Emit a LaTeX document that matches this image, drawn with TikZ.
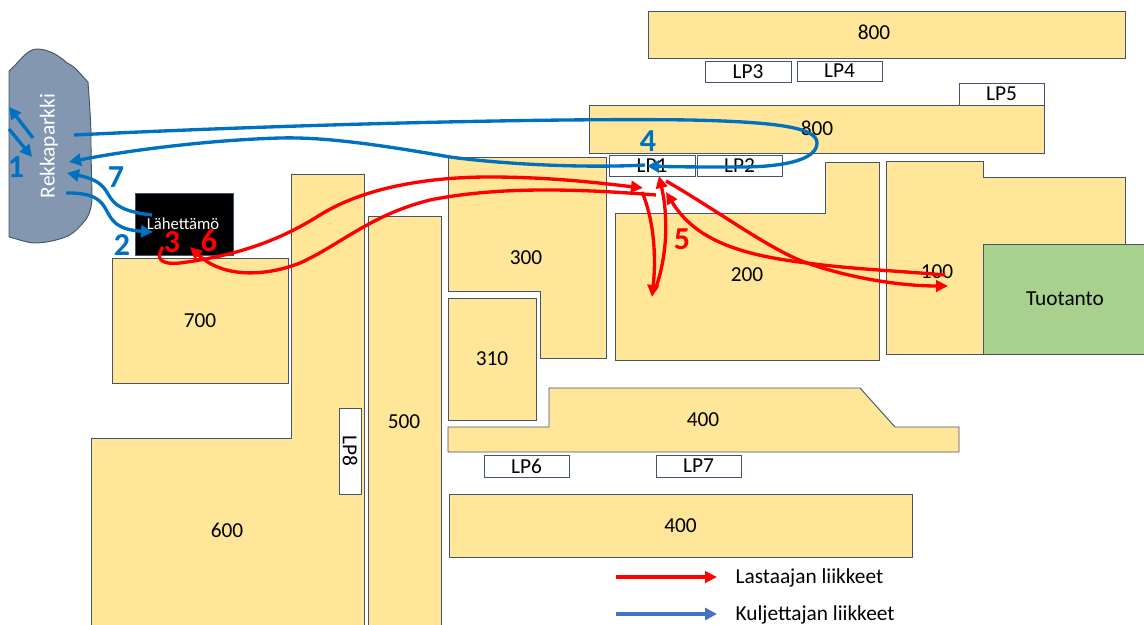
\documentclass[tikz,border=0pt]{standalone}
\usepackage{fontspec}
\setmainfont{Carlito}
\usetikzlibrary{
  arrows.meta,
  positioning
}
\definecolor{buildingcolor}{RGB}{255, 230, 153}
\definecolor{edgecolor}{RGB}{68, 84, 106}
\definecolor{productioncolor}{RGB}{169, 209, 142}
\definecolor{parkingcolor}{RGB}{132, 151, 176}
\definecolor{drivercolor}{RGB}{0, 112, 192}
\definecolor{loadercolor}{RGB}{255, 0, 0}
\definecolor{legendblue}{RGB}{68, 114, 196}
\tikzset{
building/.style={
  draw=edgecolor,
  line width=0.7pt,
  fill=buildingcolor
},
buildinglabel/.style={
  font=\fontsize{16}{18}\selectfont,
  text=black,
  inner sep=1pt
},
lpbox/.style={
  draw=edgecolor,
  line width=0.7pt,
  fill=white,
  font=\fontsize{16}{18}\selectfont,
  text=black
},
stepnum/.style={
  font=\bfseries\fontsize{24}{27}\selectfont,
  inner sep=0pt
},
driverarrow/.style={
  -{Triangle[length=9pt,width=9pt]},
  line width=2.5pt,
  draw=drivercolor
},
loaderarrow/.style={
  -{Triangle[length=9pt,width=8.5pt]},
  line width=2.5pt,
  draw=loadercolor
}
}
\begin{document}
\begin{tikzpicture}[x=0.75pt,y=-0.75pt]
  \useasboundingbox (0,0) rectangle (1144,624);
  % upper row
  \draw[building] (648,11) rectangle (1125,58);
  \node[buildinglabel] (top800) at (874,32) {800};
  \draw[lpbox] (705,61) rectangle node (lp3) {LP3} (791,82);
  \draw[lpbox] (797,61) rectangle node (lp4) {LP4} (882,81);
  \draw[lpbox] (959,83) rectangle node (lp5) {LP5} (1044,105);
  \draw[building] (589,105) rectangle (1044,153);
  \node[buildinglabel] (mid800) at (817,128) {800};
  \draw[lpbox] (609,155) rectangle node (lp1) {LP1} (695,176);
  \draw[lpbox] (697,155) rectangle node (lp2) {LP2} (782,176);

  % middle
  \draw[building] (448,157) -- (606,157) -- (606,358) -- (540,358) -- (540,291) -- (448,291) -- cycle;
  \node[buildinglabel] (b300) at (526,258) {300};
  \draw[building] (448,298) rectangle node[buildinglabel] (b310) {310} (536,420);
  \draw[building] (615,213) -- (825,213) -- (825,162) -- (879,162) -- (879,360) -- (615,360) -- cycle;
  \node[buildinglabel] (b200) at (747,275) {200};
  \draw[building] (886,161) -- (983,161) -- (983,177) -- (1125,177) -- (1125,354) -- (886,354) -- cycle;
  \node[buildinglabel] (b100) at (937,272) {100};
  \draw[building,fill=productioncolor] (983,244) rectangle (1150,354);
  \node[buildinglabel] (tuotanto) at (1065,299) {Tuotanto};

  % left side
  \draw[building] (291,174) -- (364,174) -- (364,630) -- (91,630) -- (91,438) -- (291,438) -- cycle;
  \node[buildinglabel] (b600) at (227,530) {600};
  \draw[building] (112,258) rectangle node[buildinglabel] (b700) {700} (288,383);
  \draw[building] (368,216) -- (441,216) -- (441,630) -- (368,630) -- cycle;
  \node[buildinglabel] (b500) at (404,422) {500};
  \draw[lpbox] (339,408) rectangle node[rotate=-90] (lp8) {LP8} (361,494);

  % lower row
  \draw[building] (448,427) -- (549,427) -- (549,388) -- (860,388) -- (895,427) -- (959,427) -- (959,452) -- (448,452) -- cycle;
  \node[buildinglabel] (upper400) at (703,420) {400};
  \draw[lpbox] (484,455) rectangle node (lp6) {LP6} (569,477);
  \draw[lpbox] (656,455) rectangle node (lp7) {LP7} (741,477);
  \draw[building] (449,494) rectangle node[buildinglabel] (lower400) {400} (912,557);

  % truck park and dispatch
  \draw[draw=edgecolor,line width=0.7pt,fill=parkingcolor] (9,71)
    .. controls (18,64) and (26,49) .. (37,49)
    .. controls (50,49) and (62,58) .. (67,63)
    .. controls (75,66) and (82,76) .. (88,82)
    .. controls (90,110) and (91,125) .. (91,140)
    .. controls (91,165) and (92,185) .. (92,200)
    .. controls (91,212) and (87,219) .. (83,223)
    .. controls (76,231) and (70,236) .. (63,238)
    .. controls (50,242) and (42,243) .. (33,243)
    .. controls (25,242) and (17,239) .. (9,237) -- cycle;
  \node[rotate=90,text=white,font=\fontsize{16}{18}\selectfont] (rekkaparkki) at (49,146) {Rekkaparkki};
  \draw[draw=edgecolor,line width=0.5pt,fill=black] (135,193) rectangle (233,255);
  \node[text=white,font=\fontsize{12.5}{14}\selectfont,inner sep=0pt] (lahettamo) at (183,224) {Lähettämö};

  \coordinate (outA) at (33,138);
  \coordinate (outB) at (9,107);
  \coordinate (inA) at (9,129);
  \coordinate (inB) at (32,157);
  \coordinate (parkOut) at (74,135);
  \coordinate (lpIn) at (647,166);
  \coordinate (lpOut) at (645,165);
  \coordinate (parkIn) at (69,162);
  \coordinate (dispatchOut) at (152,215);
  \coordinate (parkBack) at (67,173);
  \coordinate (parkDown) at (66,193);
  \coordinate (dispatchIn) at (153,232);
  \draw[driverarrow] (outA) -- (outB);
  \draw[driverarrow] (inA) -- (inB);
  \draw[driverarrow] (parkOut) .. controls (300,124) and (560,118) .. (690,120)
    .. controls (780,122) and (817,128) .. (817,143)
    .. controls (817,158) and (790,167) .. (740,167)
    .. controls (710,167) and (680,167) .. (lpIn);
  \draw[driverarrow] (lpOut) .. controls (590,168) and (510,165) .. (450,157)
    .. controls (370,143) and (320,137) .. (280,138)
    .. controls (210,140) and (130,150) .. (parkIn);
  \draw[driverarrow] (dispatchOut) .. controls (90,208) and (125,185) .. (parkBack);
  \draw[driverarrow] (parkDown) .. controls (125,192) and (90,228) .. (dispatchIn);

  \coordinate (loaderStart) at (163,247);
  \coordinate (loaderA) at (643,188);
  \coordinate (loaderB) at (656,195);
  \coordinate (loaderBack) at (190,247);
  \coordinate (downStart) at (642,192);
  \coordinate (downEnd) at (652,297);
  \coordinate (upStart) at (655,290);
  \coordinate (upEnd) at (659,176);
  \coordinate (farA) at (666,181);
  \coordinate (farB) at (948,286);
  \coordinate (farC) at (945,275);
  \coordinate (farD) at (666,192);
  \draw[loaderarrow] (loaderStart) .. controls (155,258) and (160,265) .. (180,263)
    .. controls (240,255) and (280,240) .. (320,215)
    .. controls (360,190) and (420,177) .. (490,177)
    .. controls (550,177) and (600,183) .. (loaderA);
  \draw[loaderarrow] (loaderB) .. controls (580,189) and (500,186) .. (430,200)
    .. controls (370,215) and (340,245) .. (300,263)
    .. controls (270,275) and (225,280) .. (loaderBack);
  \draw[loaderarrow] (downStart) .. controls (652,215) and (657,250) .. (downEnd);
  \draw[loaderarrow] (upStart) .. controls (668,255) and (668,215) .. (upEnd);
  \draw[loaderarrow] (farA) .. controls (720,212) and (770,250) .. (807,263)
    .. controls (850,278) and (900,286) .. (farB);
  \draw[loaderarrow] (farC) .. controls (900,271) and (850,269) .. (807,263)
    .. controls (740,255) and (695,240) .. (farD);

  \node[stepnum,text=drivercolor] (step1) at (16,167) {1};
  \node[stepnum,text=drivercolor] (step2) at (122,245) {2};
  \node[stepnum,text=drivercolor] (step4) at (648,141) {4};
  \node[stepnum,text=drivercolor] (step7) at (116,177) {7};
  \node[stepnum,text=loadercolor] (step3) at (172,242) {3};
  \node[stepnum,text=loadercolor] (step6) at (209,241) {6};
  \node[stepnum,text=loadercolor] (step5) at (682,239) {5};

  % legend
  \node[buildinglabel,anchor=west] (lastaaja) at (734,578) {Lastaajan liikkeet};
  \node[buildinglabel,anchor=west] (kuljettaja) at (734,615) {Kuljettajan liikkeet};
  \coordinate (lastaajaStart) at (616,577);
  \coordinate (kuljettajaStart) at (616,614);
  \draw[loaderarrow] (lastaajaStart) -- (717,577);
  \draw[driverarrow,draw=legendblue] (kuljettajaStart) -- (717,614);
\end{tikzpicture}
\end{document}
